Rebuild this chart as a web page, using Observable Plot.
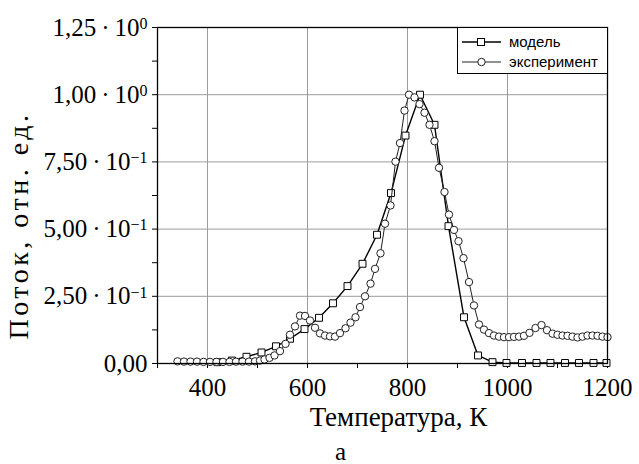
<!DOCTYPE html>
<html><head><meta charset="utf-8">
<script src="https://cdn.jsdelivr.net/npm/d3@7"></script>
<script src="https://cdn.jsdelivr.net/npm/@observablehq/plot@0.6"></script>
<style>
body{margin:0;background:#fff;}
#wrap{position:relative;width:639px;height:464px;}
#legend{position:absolute;left:457px;top:27px;width:151px;height:47px;box-sizing:border-box;border:1px solid #000;background:#fff;font-family:"Liberation Sans",Arial,sans-serif;font-size:15px;color:#000;}
.row{position:absolute;left:0;height:18px;width:100%;}
.row svg{position:absolute;left:4px;top:0;}
.row span{position:absolute;left:51px;top:0;line-height:18px;}
</style>
</head><body>
<div id="wrap"></div>
<script>
const tempModel = [420,449,478,508,537,565,594,623,651,680,710,739,767,796,825,854,882,913,941,970,998,1029,1058,1086,1115,1143,1172,1198];
const fluxModel = [0.005,0.011,0.025,0.041,0.064,0.092,0.128,0.170,0.224,0.288,0.371,0.479,0.634,0.848,1.000,0.888,0.511,0.172,0.030,0.005,0.002,0.002,0.002,0.002,0.002,0.002,0.002,0.002];

const tempExp = [340,353,366,379,392,405,418,431,444,457,470,483,495,505,514,524,534,545,556,565,575,585,595,605,615,625,635,645,655,665,676,686,696,705,715,726,735,746,755,766,776,785,794,803,814,824,834,844,854,863,874,883,893,902,912,923,933,943,953,963,973,983,993,1003,1013,1023,1033,1044,1056,1068,1079,1090,1100,1110,1120,1130,1140,1150,1160,1170,1180,1190,1200];
const fluxExp = [0.008,0.007,0.007,0.007,0.006,0.006,0.006,0.006,0.006,0.007,0.007,0.007,0.008,0.011,0.015,0.021,0.030,0.046,0.073,0.107,0.138,0.178,0.177,0.160,0.133,0.112,0.104,0.101,0.100,0.113,0.131,0.152,0.172,0.210,0.250,0.297,0.352,0.410,0.520,0.588,0.751,0.820,0.941,1.000,0.990,0.965,0.933,0.888,0.827,0.728,0.638,0.554,0.497,0.455,0.392,0.303,0.216,0.145,0.126,0.113,0.104,0.100,0.098,0.098,0.099,0.100,0.103,0.114,0.132,0.143,0.124,0.111,0.107,0.104,0.103,0.100,0.097,0.100,0.104,0.104,0.103,0.100,0.098];

const xTicks = [400,600,800,1000,1200];
const xMinorTicks = [300,500,700,900,1100];
const xGrid = [400,600,800,1000];
const yTicks = [0,0.25,0.5,0.75,1.0,1.25];
const yTickLabels = ["0,00","2,50\u2009·\u200910^−1","5,00\u2009·\u200910^−1","7,50\u2009·\u200910^−1","1,00\u2009·\u200910^0","1,25\u2009·\u200910^0"];
const yMinorTicks = [0.125,0.375,0.625,0.875,1.125];
const yGrid = [0.25,0.5,0.75,1.0];
const seriesNames = ["модель","эксперимент"];
const xLabel = "Температура, К";
const yLabel = "Поток, отн. ед.";
const panelLabel = "а";

const model = tempModel.map((t,i)=>({t, v:fluxModel[i]}));
const exp = tempExp.map((t,i)=>({t, v:fluxExp[i]}));

const chart = Plot.plot({
  width:639, height:464,
  marginLeft:157, marginRight:32, marginTop:27, marginBottom:101,
  x:{domain:[300,1200], label:null},
  y:{domain:[0,1.25], label:null},
  style:{fontFamily:'"Liberation Serif","Times New Roman",serif', fontSize:"25px", color:"#000", background:"#fff"},
  marks:[
    Plot.gridX({ticks:xGrid, stroke:"#9c9c9c", strokeOpacity:1, strokeWidth:1}),
    Plot.gridY({ticks:yGrid, stroke:"#9c9c9c", strokeOpacity:1, strokeWidth:1}),
    Plot.axisX({ticks:xTicks, tickSize:5, tickPadding:10, tickFormat:d=>String(d), label:null, fontSize:25}),
    Plot.axisX({ticks:xMinorTicks, tickSize:5, tickFormat:()=>"", label:null}),
    Plot.axisY({ticks:yTicks, tickSize:5, tickPadding:5, tickFormat:d=>yTickLabels[yTicks.indexOf(d)], label:null, fontSize:25}),
    Plot.axisY({ticks:yMinorTicks, tickSize:5, tickFormat:()=>"", label:null}),
    Plot.line(model, {x:"t", y:"v", stroke:"#000", strokeWidth:1.4}),
    Plot.dot(model, {x:"t", y:"v", symbol:"square", r:3.9, fill:"#fff", stroke:"#000", strokeWidth:1}),
    Plot.line(exp, {x:"t", y:"v", stroke:"#222", strokeWidth:1}),
    Plot.dot(exp, {x:"t", y:"v", r:3.7, fill:"#fff", stroke:"#222", strokeWidth:1}),
    Plot.frame({stroke:"#000", strokeWidth:1.3}),
    Plot.text([xLabel], {frameAnchor:"bottom", dy:62, dx:16, fontSize:27, text:d=>d}),
    Plot.text([yLabel], {frameAnchor:"left", textAnchor:"middle", rotate:-90, dx:-138, dy:30, fontSize:28, text:d=>d}),
    Plot.text([panelLabel], {frameAnchor:"bottom", dy:96, dx:-42, fontSize:25, text:d=>d})
  ]
});

d3.select(chart).selectAll("text").each(function(){
  const t = this.textContent;
  if (t === yLabel) d3.select(this).style("letter-spacing","3.5px");
  if (t.includes("^")) {
    const [a,b] = t.split("^");
    this.textContent = a;
    d3.select(this).append("tspan").attr("dy","-0.42em").attr("font-size","16px").text(b);
  }
});

const wrap = document.getElementById("wrap");
wrap.appendChild(chart);

const legend = document.createElement("div");
legend.id = "legend";
const sw = [
  '<svg width="40" height="18"><line x1="0" y1="9" x2="39" y2="9" stroke="#000" stroke-width="1.4"/><rect x="15.5" y="5.5" width="7" height="7" fill="#fff" stroke="#000"/></svg>',
  '<svg width="40" height="18"><line x1="0" y1="9" x2="39" y2="9" stroke="#222" stroke-width="1.2"/><circle cx="19.5" cy="9" r="3.7" fill="#fff" stroke="#222"/></svg>'
];
seriesNames.forEach((n,i)=>{
  const r = document.createElement("div");
  r.className = "row";
  r.style.top = (5 + i*20) + "px";
  r.innerHTML = sw[i] + '<span></span>';
  r.querySelector("span").textContent = n;
  legend.appendChild(r);
});
wrap.appendChild(legend);
</script>
</body></html>
